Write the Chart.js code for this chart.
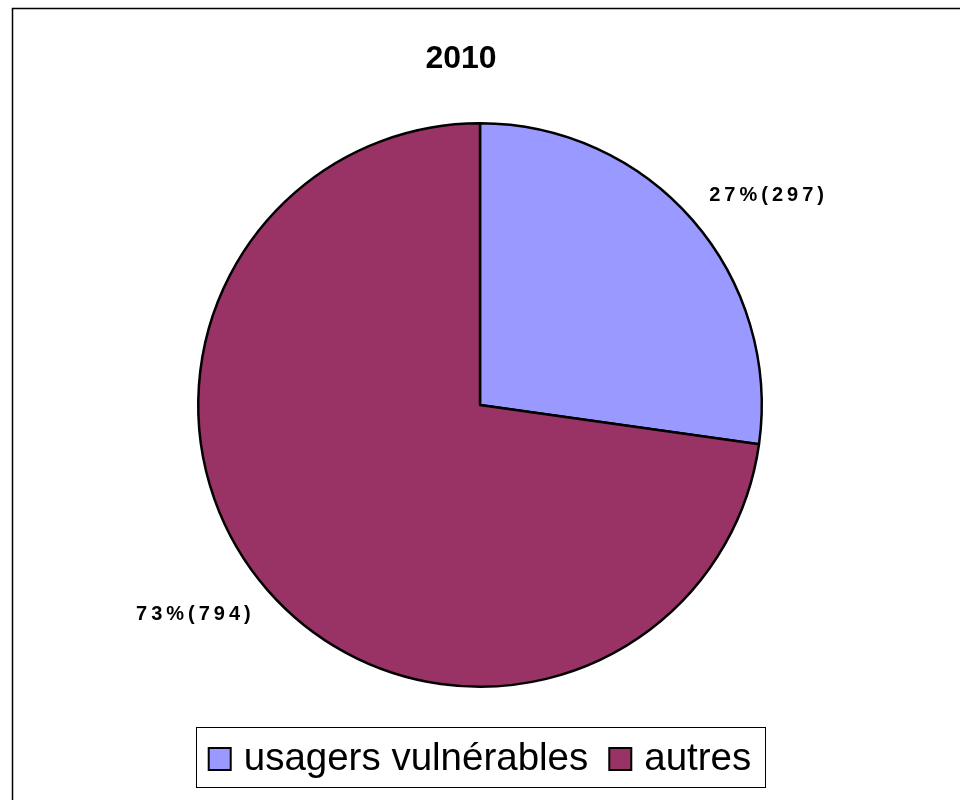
<!DOCTYPE html>
<html lang="fr">
<head>
    <meta charset="UTF-8">
    <title>2010</title>
    <style>
        body { margin: 0; background: #fff; }
        #wrap { position: relative; width: 960px; height: 800px; }
    </style>
</head>
<body>
    <div id="wrap"><canvas id="chart" width="960" height="800"></canvas></div>
    <script src="https://cdn.jsdelivr.net/npm/chart.js"></script>
    <script>
        const chartTitle = '2010';
        const categories = ['usagers vulnérables', 'autres'];
        const counts = [297, 794];
        const percents = [27, 73];
        const sliceColors = ['#9999FF', '#993366'];

        const FONT = '"Liberation Sans", Arial, sans-serif';

        // outer frame + title
        const framePlugin = {
            id: 'frame',
            beforeDraw(chart) {
                const ctx = chart.ctx;
                ctx.save();
                ctx.fillStyle = '#fff';
                ctx.fillRect(0, 0, chart.width, chart.height);
                ctx.strokeStyle = '#000';
                ctx.lineWidth = 1.5;
                ctx.strokeRect(12.5, 8.5, chart.width + 10, chart.height + 10);
                ctx.fillStyle = '#000';
                ctx.font = 'bold 32px ' + FONT;
                ctx.textAlign = 'center';
                ctx.textBaseline = 'alphabetic';
                ctx.fillText(chartTitle, 461, 68);
                ctx.restore();
            }
        };

        // labels outside the slices, anchored on the corner nearest the pie
        const sliceLabels = {
            id: 'sliceLabels',
            afterDatasetsDraw(chart) {
                const ctx = chart.ctx;
                const meta = chart.getDatasetMeta(0);
                ctx.save();
                ctx.fillStyle = '#000';
                ctx.font = 'bold 20px ' + FONT;
                ctx.letterSpacing = '4px';
                meta.data.forEach((arc, i) => {
                    const p = arc.getProps(['x', 'y', 'startAngle', 'endAngle', 'outerRadius'], true);
                    const mid = (p.startAngle + p.endAngle) / 2;
                    const r = p.outerRadius + 22;
                    const x = p.x + Math.cos(mid) * r;
                    const y = p.y + Math.sin(mid) * r;
                    const txt = percents[i] + '%(' + counts[i] + ')';
                    const w = ctx.measureText(txt).width;
                    ctx.textAlign = 'left';
                    ctx.textBaseline = Math.sin(mid) < 0 ? 'bottom' : 'top';
                    ctx.fillText(txt, Math.cos(mid) >= 0 ? x : x - w + 4, y);
                });
                ctx.restore();
            }
        };

        // boxed legend under the pie
        const boxLegend = {
            id: 'boxLegend',
            afterDraw(chart) {
                const ctx = chart.ctx;
                const colors = chart.data.datasets[0].backgroundColor;
                ctx.save();
                ctx.font = '38.5px ' + FONT;
                const sq = 22, gapText = 13, gapItem = 21;
                const widths = chart.data.labels.map(l => ctx.measureText(l).width);
                let total = 0;
                widths.forEach((w, i) => { total += sq + gapText + w + (i < widths.length - 1 ? gapItem : 0); });
                const cx = chart.chartArea.left + chart.chartArea.width / 2;
                const top = 727, bottom = 787, mid = (top + bottom) / 2;
                ctx.strokeStyle = '#000';
                ctx.lineWidth = 1;
                ctx.strokeRect(Math.round(cx - total / 2 - 13) + 0.5, top + 0.5, Math.round(total + 26), bottom - top);
                let x = cx - total / 2;
                ctx.textBaseline = 'middle';
                ctx.textAlign = 'left';
                chart.data.labels.forEach((l, i) => {
                    ctx.fillStyle = colors[i];
                    ctx.fillRect(x, mid - sq / 2 + 2, sq, sq);
                    ctx.lineWidth = 2;
                    ctx.strokeRect(x, mid - sq / 2 + 2, sq, sq);
                    ctx.fillStyle = '#000';
                    ctx.fillText(l, x + sq + gapText, mid + 2);
                    x += sq + gapText + widths[i] + gapItem;
                });
                ctx.restore();
            }
        };

        new Chart(document.getElementById('chart'), {
            type: 'pie',
            data: {
                labels: categories,
                datasets: [{
                    data: counts,
                    backgroundColor: sliceColors,
                    borderColor: '#000',
                    borderWidth: 2.5
                }]
            },
            options: {
                responsive: false,
                animation: false,
                layout: { padding: { top: 122, bottom: 112, left: 197, right: 197 } },
                plugins: {
                    legend: { display: false },
                    title: { display: false },
                    tooltip: { enabled: false }
                }
            },
            plugins: [framePlugin, sliceLabels, boxLegend]
        });
    </script>
</body>
</html>
